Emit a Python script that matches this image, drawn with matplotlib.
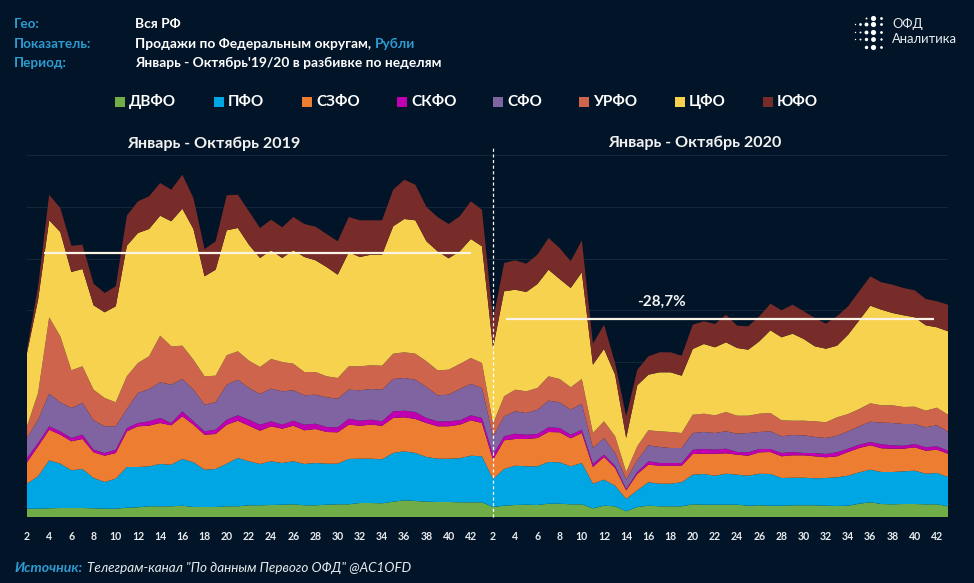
import numpy as np
import matplotlib
matplotlib.use("Agg")
import matplotlib.pyplot as plt
from matplotlib.patches import Rectangle

FONT = ['Lato', 'Open Sans', 'DejaVu Sans']
plt.rcParams['font.family'] = FONT

BG = '#021427'
ACC = '#2E9BD0'

regions = ['ДВФО', 'ПФО', 'СЗФО', 'СКФО', 'СФО', 'УРФО', 'ЦФО', 'ЮФО']
colors = ['#70AD47', '#00A5E3', '#ED7D31', '#C000B0', '#8064A2', '#CD644B', '#F7D24E', '#772C2A']
week_labels = [str(w) for w in range(2, 43, 2)] * 2

# cumulative top of each stacked layer (relative units), 2019 then 2020
dvfo = [8.3,8.3,8.7,9,9,9,8.7,8.3,8.3,9.3,9.7,10.7,10.7,10.7,11.3,10,10,10,10.7,10.7,11.7,11.7,12,12.3,12.7,11.7,11.7,12.3,12.7,12.7,14,14,13.7,15.3,16.7,16,15.3,15,15,14.7,14.7,14.7,
        10,11.3,12,12.3,12,13.3,13.3,12.7,12.7,8.7,11.3,10.7,5.7,10,11.3,10.7,10.7,10.7,12.7,12.3,12.3,12.3,12.3,11.3,11.7,11.3,11.3,11.7,11.7,11.7,11.3,11,11.3,13.3,14.7,13,12.7,13,13,12.7,12.7,10.7]
pfo = [33.3,40.7,56.7,53.3,46.7,48,39,35,38.3,50,50,50.7,53,52.3,58,54.7,47.3,48,53.3,59,55.7,53,55.7,54,55.7,53,54,53.3,53.3,58,58.3,58.3,57.7,64,65.7,64,60,58.3,58.3,58.7,61.3,60.7,
       38,48,51.3,50.7,50.7,55,54.7,50.7,54,33.3,37.3,31.3,18,26.7,34.7,33.3,33.3,34.7,42.3,43,41.3,43.3,42.3,41.3,43.3,43,39,39.3,39.3,38.7,39,39.7,41.3,44.7,47.3,45,45,45.7,46.3,43.3,44,40]
szfo = [54.7,70.7,87.3,82.3,75.7,78,64.7,61.3,64,85.7,90.7,91.3,94,91.7,100.7,92.3,82.3,83,92.3,96.3,91.3,86.3,90.7,88.3,91.3,86.7,88,85,84.7,92.3,91.3,92.3,91.3,99,99.7,98,94,90.7,90.7,92.3,96.7,94,
        57.3,76.7,78,78,79,85,84.7,78.7,84,50,60,49,26.7,43,52.3,51.3,51.3,51.3,63,63.3,63.3,63.7,62.3,61.3,64.7,65,60.7,61.7,61.7,60.7,59.7,60.7,65,69,71.7,68.7,68.3,68.3,69.7,66.3,67.3,63.3]
skfo = [59,74,90.7,85.7,79,82.3,67.3,64,67.3,89,94,95.7,99,94,105.7,95.7,85.7,87.3,97.3,101.7,97.3,92.3,95.7,92.3,96.3,92.3,93.3,90,89.7,98.3,96.3,97.3,95.7,105.7,106.3,105,99,95.7,95.7,96.7,101.7,99,
        62.3,80.7,83.3,82.3,83,89.7,89,82.3,87.3,53.3,62.3,51.3,28,45,55.7,54,54,54,67.3,68,67.3,68.3,65,64.7,68,68,64,65,64,64,63,64.7,68.3,72.3,75,72.7,71.7,71.3,73,69.7,70.7,66.3]
sfo = [79,97.3,123.3,114.7,109,114,96.7,90.7,90.7,108,124,128,134.7,132.3,138,127.3,112.3,114.7,132.3,137.3,129,123,128.3,125.7,126.7,121.7,122.3,119.7,118.3,127.3,126.7,128,127.3,138,139,137.3,130,121.7,122.3,128,133,129,
       80.7,100.7,105.7,104,107.3,116.3,114.7,107.3,113.3,69,79,64,37.3,56.7,71.7,70,69,69,84,85,84,85.7,83.3,84,85,85.7,80.7,82,81.7,80,79,81.3,85.7,90.7,95.3,94.3,94,93,93,89.7,91.7,85.3]
urfo = [90.7,124,199.7,180.7,146.7,150.7,127.3,119,114.7,140.7,154,160.7,181.3,170.7,171.3,157.3,140.7,141.3,161.7,165.7,156.3,150,158,155,153.3,145,145,140.7,139,150.7,150.7,151.7,151.3,163.3,164.7,163.3,155.7,146.7,147.3,153,159,154,
        93.3,120.7,127.3,125.7,129,140.7,138,129.7,138,84,95.7,80.7,45,70.7,86.7,85.7,85,84,102.3,103.3,101.7,105,101.3,101.3,103.3,104,96.7,96.3,96.3,95.7,94.7,99.7,103,108,113.7,111.7,111.7,110,110.3,106.3,109.3,102.3]
cfo = [164,217.3,296.7,285,245,248,211.7,204.7,210.7,271.3,284,288,301.3,295.7,308.3,288,240.7,247.3,286.7,289,272.3,259,266.7,259,266.7,260,256.7,250,242.3,264.7,260,262.3,262.3,290.7,298,296.7,275.7,265.7,258.7,265.7,278,270.7,
       169,225.7,227.3,225,233,247.3,238,229,244.7,152.3,168,142.3,79,131.7,142.3,144.7,144.7,141.3,168,173,169.7,174.7,169,167.3,175.7,186.7,179.7,183.3,178,170.7,168.3,171.3,182.3,196.7,211.3,207.3,204,201.7,199.7,191.7,189.7,185.7]
yufo = [167.3,230.7,322.3,309,271.3,272.3,233.3,224,230.7,301.3,315.7,320.7,334,327.3,342.3,319,268,275.7,321.7,322.3,305.7,289,297.3,289.7,300,293,290.3,283,275.7,300,296.7,296.7,296.7,327.3,337.3,332.3,310,300,293,300.7,315.7,307.3,
        197.3,254,256.7,253.3,262.3,279,269,255.7,276.7,173.3,192.3,154,100.7,147.3,160.7,164.7,164.7,161.3,192.3,195.7,193,202.3,191.3,190.7,200.7,213.3,206.7,212.3,205.7,199,193.3,200.7,210.7,225.7,240.7,234.7,232.3,229,226.7,218,215.7,212.3]
avg_2019 = 264
avg_2020 = 198

tops = np.array([dvfo, pfo, szfo, skfo, sfo, urfo, cfo, yufo], dtype=float)
layers = np.diff(np.vstack([np.zeros(tops.shape[1]), tops]), axis=0)
x = np.arange(tops.shape[1])

W, H = 974, 583
fig = plt.figure(figsize=(W / 100, H / 100), dpi=100, facecolor=BG)


def fx(px):
    return px / W


def fy(py):
    return 1 - py / H


ax = fig.add_axes([fx(27), fy(517), (948 - 27) / W, (517 - 155) / H], facecolor=BG)
ax.set_axisbelow(True)
ax.stackplot(x, layers, colors=colors, linewidth=0)
ax.set_xlim(0, 83)
ax.set_ylim(0, 362)
ax.set_yticks(np.arange(0, 362.5, 51.7))
ax.set_yticklabels([])
ax.grid(axis='y', color='#14283B', linewidth=0.7)
ax.set_xticks(np.arange(0, 84, 2))
ax.set_xticklabels(week_labels, color='#E8ECEF', fontsize=7.6, fontweight='bold')
ax.tick_params(axis='both', length=0, pad=10)
for s in ax.spines.values():
    s.set_visible(False)

ax.plot([1.5, 40], [avg_2019, avg_2019], color='#FBF3E6', lw=1.6, solid_capstyle='butt')
ax.plot([43.2, 81.7], [avg_2020, avg_2020], color='#FBF3E6', lw=1.6, solid_capstyle='butt')
ax.plot([42, 42], [0, 369], color='white', lw=0.9, ls=(0, (2.5, 2)), clip_on=False)

t = fig.text
t(fx(213.5), fy(144), 'Январь - Октябрь 2019', color='#F2F2F2', fontsize=11.6, fontweight='bold', ha='center', va='center')
t(fx(695), fy(143), 'Январь - Октябрь 2020', color='#F2F2F2', fontsize=11.6, fontweight='bold', ha='center', va='center')
t(fx(661), fy(302), '-28,7%', color='#F2F2F2', fontsize=11, fontweight='bold', ha='center', va='center')

# header block
for py, label in zip([24, 43.5, 63], ['Гео:', 'Показатель:', 'Период:']):
    t(fx(14), fy(py), label, color=ACC, fontsize=9.7, fontweight='bold', va='center')
t(fx(135), fy(24), 'Вся РФ', color='white', fontsize=9.9, fontweight='bold', va='center')
t(fx(135), fy(43.5), 'Продажи по Федеральным округам,', color='white', fontsize=9.9, fontweight='bold', va='center')
t(fx(375), fy(43.5), 'Рубли', color=ACC, fontsize=9.9, fontweight='bold', va='center')
t(fx(135), fy(63), "Январь - Октябрь'19/20 в разбивке по неделям", color='white', fontsize=9.9, fontweight='bold', va='center')

# legend
sq_x = [115, 214, 302, 397, 493, 579, 675, 763]
for sx, name, col in zip(sq_x, regions, colors):
    fig.patches.append(Rectangle((fx(sx), fy(107)), 10 / W, 10 / H, transform=fig.transFigure, facecolor=col, edgecolor='none'))
    t(fx(sx + 14), fy(102), name, color='white', fontsize=11, fontweight='bold', va='center')

# logo
lax = fig.add_axes([fx(850), fy(52), 36 / W, 42 / H])
lax.set_xlim(850, 886)
lax.set_ylim(52, 10)
lax.axis('off')
lx = [855, 860, 866, 873, 881]
ly = [18, 24, 32, 39, 47]
sizes = [[0, 0, 2, 14, 4], [1, 4, 8, 14, 4], [1, 2, 8, 14, 4], [1, 2, 6, 12, 3], [0, 0, 6, 14, 4]]
for row, s_row in zip(ly, sizes):
    for col, s in zip(lx, s_row):
        if s:
            lax.scatter([col], [row], s=s, color='white', linewidths=0)
t(fx(892), fy(24), 'ОФД', color='#E8ECEF', fontsize=9.4, va='center')
t(fx(892), fy(39), 'Аналитика', color='#E8ECEF', fontsize=9.4, va='center')

# footer
t(fx(14), fy(568), 'Источник:', color=ACC, fontsize=10.2, fontweight='bold', style='italic', va='center')
t(fx(87), fy(568), 'Телеграм-канал "По данным Первого ОФД" @AC1OFD', color='#E8ECEF', fontsize=9.7, style='italic', va='center')

fig.savefig('out.png', dpi=100, facecolor=BG)
